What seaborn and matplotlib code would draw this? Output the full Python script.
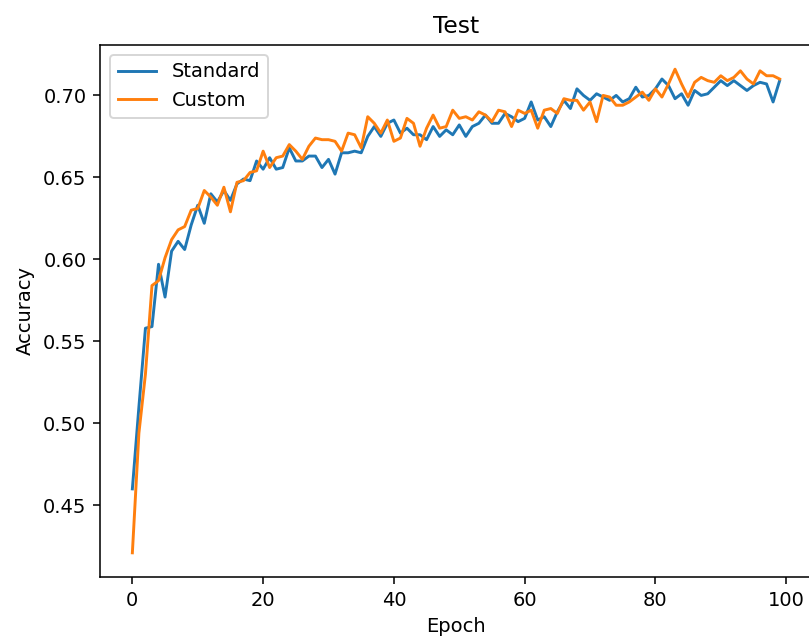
import matplotlib
matplotlib.use("Agg")
import matplotlib.pyplot as plt
import seaborn as sns
import pandas as pd
import numpy as np

epochs = list(range(100))

standard = [0.460, 0.510, 0.558, 0.559, 0.597, 0.577, 0.605, 0.611, 0.606, 0.621,
            0.633, 0.622, 0.640, 0.635, 0.642, 0.636, 0.646, 0.649, 0.648, 0.660,
            0.655, 0.662, 0.655, 0.656, 0.668, 0.660, 0.660, 0.663, 0.663, 0.656,
            0.661, 0.652, 0.665, 0.665, 0.666, 0.665, 0.675, 0.681, 0.675, 0.683,
            0.685, 0.677, 0.680, 0.676, 0.676, 0.673, 0.681, 0.675, 0.679, 0.676,
            0.682, 0.675, 0.681, 0.683, 0.688, 0.683, 0.683, 0.689, 0.687, 0.684,
            0.686, 0.696, 0.685, 0.687, 0.681, 0.690, 0.697, 0.692, 0.704, 0.700,
            0.697, 0.701, 0.699, 0.697, 0.700, 0.696, 0.698, 0.705, 0.699, 0.700,
            0.704, 0.710, 0.706, 0.698, 0.701, 0.694, 0.703, 0.700, 0.701, 0.705,
            0.709, 0.706, 0.709, 0.706, 0.703, 0.706, 0.708, 0.707, 0.696, 0.709]

custom = [0.421, 0.494, 0.530, 0.584, 0.587, 0.601, 0.612, 0.618, 0.620, 0.630,
          0.631, 0.642, 0.638, 0.633, 0.644, 0.629, 0.647, 0.648, 0.653, 0.654,
          0.666, 0.656, 0.662, 0.663, 0.670, 0.666, 0.661, 0.669, 0.674, 0.673,
          0.673, 0.672, 0.666, 0.677, 0.676, 0.668, 0.687, 0.683, 0.677, 0.685,
          0.672, 0.674, 0.686, 0.683, 0.669, 0.680, 0.688, 0.680, 0.681, 0.691,
          0.686, 0.687, 0.685, 0.690, 0.688, 0.684, 0.691, 0.690, 0.681, 0.691,
          0.689, 0.691, 0.680, 0.691, 0.692, 0.689, 0.698, 0.697, 0.697, 0.691,
          0.696, 0.684, 0.700, 0.699, 0.694, 0.694, 0.696, 0.699, 0.702, 0.697,
          0.704, 0.699, 0.707, 0.716, 0.707, 0.699, 0.708, 0.711, 0.709, 0.708,
          0.712, 0.709, 0.711, 0.715, 0.710, 0.707, 0.715, 0.712, 0.712, 0.710]

series_names = ["Standard", "Custom"]

df = pd.DataFrame({
    "Epoch": epochs * 2,
    "Accuracy": standard + custom,
    "Model": [series_names[0]] * len(standard) + [series_names[1]] * len(custom),
})

DPI = 140
fig = plt.figure(figsize=(809 / DPI, 637 / DPI), dpi=DPI)
ax = fig.add_axes([100 / 809, 60 / 637, 712 / 809, 532 / 637])
sns.lineplot(data=df, x="Epoch", y="Accuracy", hue="Model",
             palette=["#1f77b4", "#ff7f0e"], ax=ax, linewidth=1.5)
ax.set_title("Test")
ax.set_xlabel("Epoch")
ax.set_ylabel("Accuracy")
ax.legend(loc="upper left")
fig.savefig("out.png", dpi=DPI)
